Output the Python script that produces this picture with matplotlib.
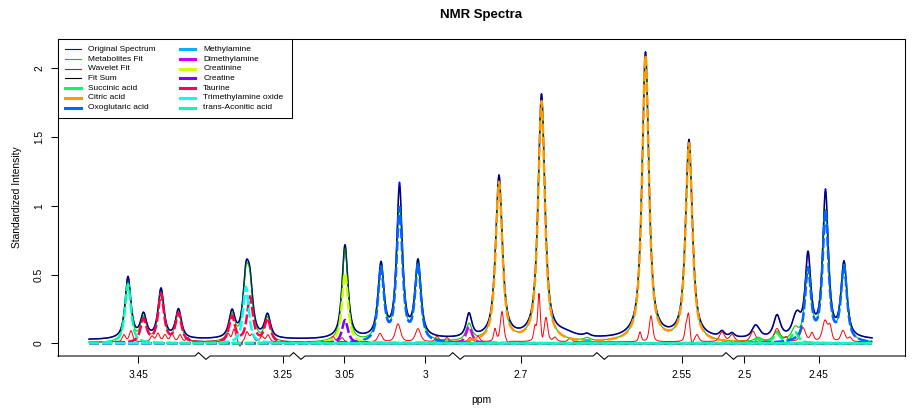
import numpy as np
import matplotlib
matplotlib.use("Agg")
import matplotlib.pyplot as plt
from matplotlib.lines import Line2D
from matplotlib.patches import Rectangle
from matplotlib.transforms import blended_transform_factory

plt.rcParams['font.family'] = ['Liberation Sans', 'DejaVu Sans']
plt.rcParams['lines.scale_dashes'] = False

# ---------------- data (x in spectral index units of the broken ppm axis) ----------------
x_start, x_end = 89, 872

tick_positions = [138.3, 282.7, 344.3, 425.3, 520.7, 681.7, 744.3, 818.5]
tick_labels = ["3.45", "3.25", "3.05", "3", "2.7", "2.55", "2.5", "2.45"]
break_positions = [202.5, 297.5, 456.7, 600.8, 730.0]

# metabolite peaks: (index, height, half width)
succinic_acid = [(758, 0.03, 4), (777, 0.07, 4), (795, 0.08, 4)]
citric_acid = [(499, 1.16, 4), (541.5, 1.75, 4), (645.5, 2.08, 4), (689, 1.44, 4)]
oxoglutaric_acid = [(381, 0.53, 3.5), (399.5, 0.96, 3.5), (418, 0.55, 3.5),
                    (808, 0.52, 3.5), (825.5, 0.94, 3.5), (844, 0.54, 3.5)]
methylamine = [(587, 0.02, 3.5)]
dimethylamine = [(469, 0.12, 3.5)]
creatinine = [(345, 0.51, 3.5)]
creatine = [(345, 0.17, 3.5)]
taurine = [(143.5, 0.17, 3.5), (161, 0.35, 3.5), (178.5, 0.21, 3.5),
           (232, 0.19, 3.5), (250, 0.33, 3.5), (267.5, 0.17, 3.5)]
trimethylamine_oxide = [(246, 0.41, 3.5)]
trans_aconitic_acid = [(128, 0.43, 3.5)]

# extra intensity in the fit sum / original spectrum
fit_baseline = 0.025
fit_extra = [(128, 0.02, 2.5), (161, 0.01, 2.5), (469, 0.05, 3), (499, 0.02, 2.5),
             (541.5, 0.02, 2.5), (565, 0.03, 12), (808, 0.07, 2.5), (825.5, 0.1, 2.5),
             (399.5, 0.12, 2.5), (722, 0.04, 3), (732, 0.03, 3), (755, 0.07, 4),
             (777, 0.09, 4), (798, 0.09, 4)]
original_extra = [(399.5, 0.03, 2.0), (825.5, 0.02, 2.0)]

# wavelet fit bumps
wavelet_baseline = 0.01
wavelet_peaks = [(124, 0.05, 2), (131, 0.08, 2), (152, 0.04, 2), (158, 0.06, 2),
                 (165, 0.05, 2), (172, 0.06, 2), (180, 0.05, 2), (188, 0.03, 2),
                 (228, 0.06, 2), (234, 0.09, 2), (240, -0.04, 1.5), (247, 0.07, 2),
                 (252, 0.05, 2), (262, 0.04, 2), (268, 0.05, 2),
                 (333, 0.04, 2), (342, 0.03, 2), (350, -0.02, 1.5), (380, 0.06, 2.5),
                 (398, 0.13, 3), (418, 0.095, 3), (437, 0.04, 2), (447, 0.03, 2),
                 (470, 0.03, 2), (478, 0.04, 2), (495, 0.09, 1.5), (502, 0.22, 2),
                 (508, -0.015, 1.5), (535, 0.1, 1.5), (539, 0.34, 1.5), (542.5, -0.03, 1),
                 (546, 0.17, 2), (555, 0.03, 2), (570, 0.03, 2),
                 (640, 0.07, 1.5), (651, 0.19, 2), (686, 0.1, 1.5), (688.5, 0.19, 1.5),
                 (692, -0.04, 1), (697, 0.05, 2), (722, 0.07, 3), (732, 0.05, 3),
                 (753, 0.075, 3), (777, 0.095, 3.5), (786, 0.03, 2), (803, 0.1, 3),
                 (812, 0.06, 2), (825, 0.15, 3), (830, 0.1, 2), (843, 0.08, 2.5),
                 (850, 0.03, 2)]

metabolite_names = ["Succinic acid", "Citric acid", "Oxoglutaric acid", "Methylamine",
                    "Dimethylamine", "Creatinine", "Creatine", "Taurine",
                    "Trimethylamine oxide", "trans-Aconitic acid"]
metabolite_peaks = [succinic_acid, citric_acid, oxoglutaric_acid, methylamine,
                    dimethylamine, creatinine, creatine, taurine,
                    trimethylamine_oxide, trans_aconitic_acid]
metabolite_colors = ["#00FF66", "#FF9900", "#0066FF", "#00B3FF", "#CC00FF",
                     "#CCFF00", "#8000FF", "#FF004D", "#00FFFF", "#00FFB3"]

# ---------------- build curves ----------------
x = np.arange(x_start, x_end + 0.25, 0.5)


def lineshape(peaks, eta=0.8):
    y = np.zeros_like(x)
    for c, h, w in peaks:
        d = (x - c) / w
        y += h * (eta / (1 + d * d) + (1 - eta) * np.exp(-np.log(2) * d * d))
    return y


components = [lineshape(p) for p in metabolite_peaks]
metab_fit = np.sum(components, axis=0)
fit_sum = metab_fit + fit_baseline + lineshape(fit_extra)
original = fit_sum + lineshape(original_extra)
wavelet = wavelet_baseline + lineshape(wavelet_peaks, eta=0.5)

# ---------------- figure ----------------
W, H = 923, 411
fig = plt.figure(figsize=(W / 100, H / 100), dpi=100)
L, R, T, B = 58, 905, 39, 356
ax = fig.add_axes([L / W, 1 - B / H, (R - L) / W, (B - T) / H])

ax.plot(x, original, color="#0000FF", lw=1.1, zorder=2)
ax.plot(x, metab_fit, color="#00CD00", lw=0.8, zorder=3)
ax.plot(x, wavelet, color="#FF0000", lw=0.7, zorder=3)
ax.plot(x, fit_sum, color="black", lw=0.9, alpha=0.6, zorder=4)
for comp, col in zip(components, metabolite_colors):
    ax.plot(x, comp, color=col, lw=1.8, dashes=(7.2, 2.2), zorder=5)

ax.set_xlim(L, R)
y0 = 343.3
ppu = 137.5
ax.set_ylim(-(B - y0) / ppu, (y0 - T) / ppu)

ax.set_xticks(tick_positions)
ax.set_xticklabels(tick_labels)
ax.set_yticks([0, 0.5, 1, 1.5, 2])
ax.set_yticklabels(["0", "0.5", "1", "1.5", "2"], rotation=90, va="center")
ax.tick_params(axis="both", length=5, width=0.75, labelsize=7.4, direction="out")
ax.tick_params(axis="x", pad=5)
ax.tick_params(axis="y", pad=5)
for s in ax.spines.values():
    s.set_linewidth(0.75)
ax.spines["bottom"].set_visible(False)

# bottom axis line with break marks
tr = blended_transform_factory(ax.transData, ax.transAxes)
hh = 3.4 / (B - T)
bx = [L]
by = [0]
for c in break_positions:
    bx += [c - 7.5, c - 4.0, c + 3.5, c + 7.5]
    by += [0, hh, -hh, 0]
bx.append(R)
by.append(0)
ax.add_line(Line2D(bx, by, transform=tr, color="black", lw=0.75, clip_on=False, zorder=6))

ax.set_xlabel("ppm", fontsize=7.4, labelpad=11)
ax.set_ylabel("Standardized Intensity", fontsize=7.4, labelpad=9)
fig.text((L + R) / 2 / W, 1 - 15 / H, "NMR Spectra", ha="center", va="center",
         fontsize=9.5, fontweight="bold")

# legend (drawn manually in figure pixels)
def fx(px):
    return px / W


def fy(py):
    return 1 - py / H


fig.add_artist(Rectangle((fx(58), fy(118)), fx(292) - fx(58), fy(39) - fy(118),
                         transform=fig.transFigure, fill=True, facecolor="white",
                         edgecolor="black", lw=0.75, zorder=10))
col1 = ["Original Spectrum", "Metabolites Fit", "Wavelet Fit", "Fit Sum"] + metabolite_names[:3]
col1_c = ["#0000FF", "#00CD00", "#FF0000", "black"] + metabolite_colors[:3]
col1_w = [0.8] * 4 + [2.2] * 3
col2 = metabolite_names[3:]
col2_c = metabolite_colors[3:]
col2_w = [2.2] * 7
for names, cols, lws, lx0, lx1, tx in [(col1, col1_c, col1_w, 65, 81, 87.7),
                                      (col2, col2_c, col2_w, 180, 195, 203.3)]:
    for i, (n, c, w) in enumerate(zip(names, cols, lws)):
        yy = 49.3 + 9.73 * i
        fig.add_artist(Line2D([fx(lx0), fx(lx1)], [fy(yy), fy(yy)], transform=fig.transFigure,
                              color=c, lw=w, zorder=11))
        fig.text(fx(tx), fy(yy), n, fontsize=6, ha="left", va="center", zorder=11)

fig.savefig("out.png", dpi=100)
